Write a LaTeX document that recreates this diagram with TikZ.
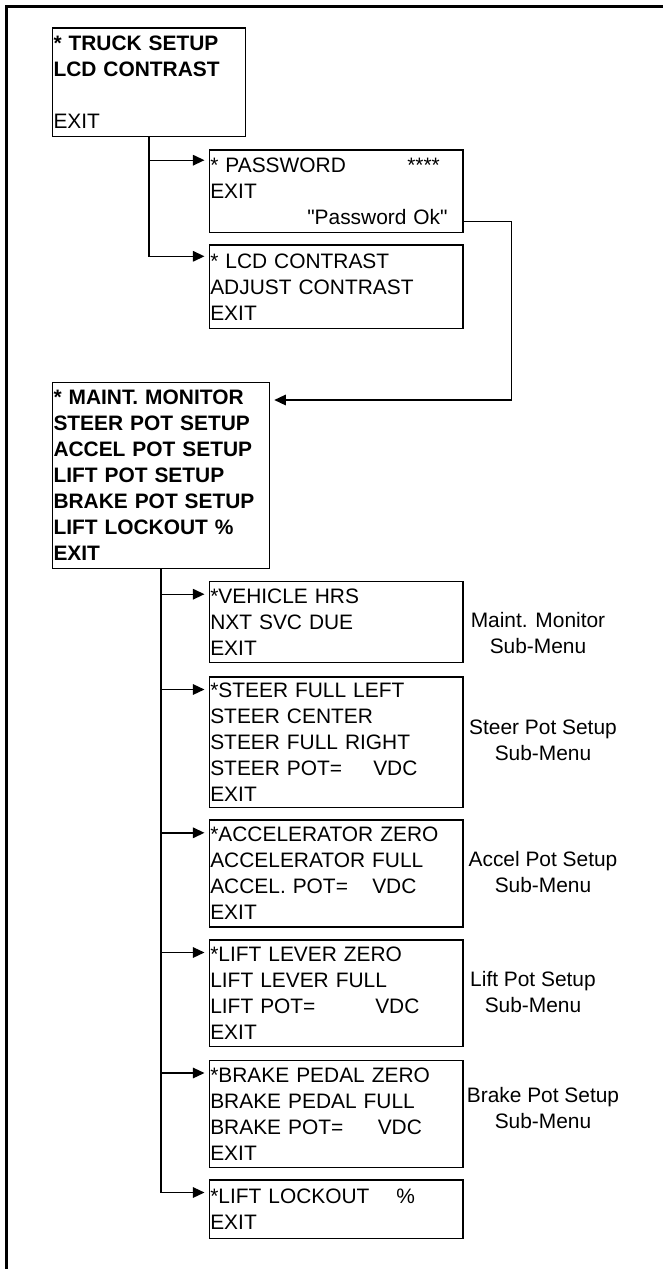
\documentclass[tikz,border=0pt]{standalone}
\usepackage{fontspec}
\newfontfamily\menufam{Liberation Sans}
\usetikzlibrary{arrows.meta}
\newcommand{\menufont}{\menufam\fontsize{11.9}{14.8}\selectfont}

\begin{document}
\begin{tikzpicture}[x=0.02cm, y=-0.02cm,
  box/.style={draw, line width=0.85pt, anchor=north west, align=left,
    inner xsep=0.6pt, inner ysep=0pt, font=\menufont},
  sub/.style={box, text width=5.03cm},
  conn/.style={line width=0.8pt, -{Triangle[length=0.23cm, width=0.21cm]}, shorten >=2.3pt},
  lbl/.style={align=center, font=\menufont}]
  \useasboundingbox (0,0) rectangle (663,1269);

  % Outer frame (top and left only)
  \draw[line width=1.5pt] (6.4,1269) -- (6.4,6.7) -- (663,6.7);

  % Top level menu
  \node[box, text width=3.82cm, minimum height=2.17cm] (truck) at (51.7,27.3)
    {\textbf{* TRUCK SETUP}\\\textbf{LCD CONTRAST}\\[14.8pt]EXIT};
  \node[sub, minimum height=1.65cm] (pw) at (208.5,149.2)
    {\makebox[3.94cm][l]{* PASSWORD}****\\EXIT\\\hspace*{1.94cm}"Password Ok"};
  \node[sub, minimum height=1.67cm] (lcd) at (208.5,244.3)
    {* LCD CONTRAST\\ADJUST CONTRAST\\EXIT};

  % Maintenance menu
  \node[box, text width=4.30cm, minimum height=3.72cm, font=\menufont\bfseries] (maint) at (51.7,381.7)
    {* MAINT. MONITOR\\STEER POT SETUP\\ACCEL POT SETUP\\LIFT POT SETUP\\BRAKE POT SETUP\\LIFT LOCKOUT \%\\EXIT};

  % Sub-menus
  \node[sub, minimum height=1.62cm] (veh) at (208.5,580.7)
    {*VEHICLE HRS\\NXT SVC DUE\\EXIT};
  \node[sub, minimum height=2.62cm] (steer) at (208.5,676)
    {*STEER FULL LEFT\\STEER CENTER\\STEER FULL RIGHT\\\makebox[3.26cm][l]{STEER POT=}VDC\\EXIT};
  \node[sub, minimum height=2.14cm] (accel) at (208.5,819.3)
    {*ACCELERATOR ZERO\\ACCELERATOR FULL\\\makebox[3.24cm][l]{ACCEL. POT=}VDC\\EXIT};
  \node[sub, minimum height=2.14cm] (lift) at (208.5,939)
    {*LIFT LEVER ZERO\\LIFT LEVER FULL\\\makebox[3.3cm][l]{LIFT POT=}VDC\\EXIT};
  \node[sub, minimum height=2.15cm] (brake) at (208.5,1059.5)
    {*BRAKE PEDAL ZERO\\BRAKE PEDAL FULL\\\makebox[3.35cm][l]{BRAKE POT=}VDC\\EXIT};
  \node[sub, minimum height=1.18cm] (lock) at (208.5,1179)
    {\makebox[3.72cm][l]{*LIFT LOCKOUT}\%\\EXIT};

  % Sub-menu labels
  \node[lbl] (vehlbl)   at (538,633)  {Maint. Monitor\\Sub-Menu};
  \node[lbl] (steerlbl) at (543,740)  {Steer Pot Setup\\Sub-Menu};
  \node[lbl] (accellbl) at (543,872)  {Accel Pot Setup\\Sub-Menu};
  \node[lbl] (liftlbl)  at (533,992)  {Lift Pot Setup\\Sub-Menu};
  \node[lbl] (brakelbl) at (543,1108) {Brake Pot Setup\\Sub-Menu};

  % Connectors
  \draw[conn] (truck.south) |- ([yshift=-0.22cm]pw.north west);
  \draw[conn] (truck.south) |- ([yshift=-0.24cm]lcd.north west);

  \coordinate (okout) at ([yshift=0.234cm]pw.south east);
  \coordinate (mtin) at ([yshift=-0.366cm]maint.north east);
  \draw[conn] (okout) -- ++(48,0) |- (mtin);

  \foreach \b in {veh,steer,accel,lift,brake,lock}
    \draw[conn] (maint.south) |- ([yshift=-0.27cm]\b.north west);
\end{tikzpicture}
\end{document}
